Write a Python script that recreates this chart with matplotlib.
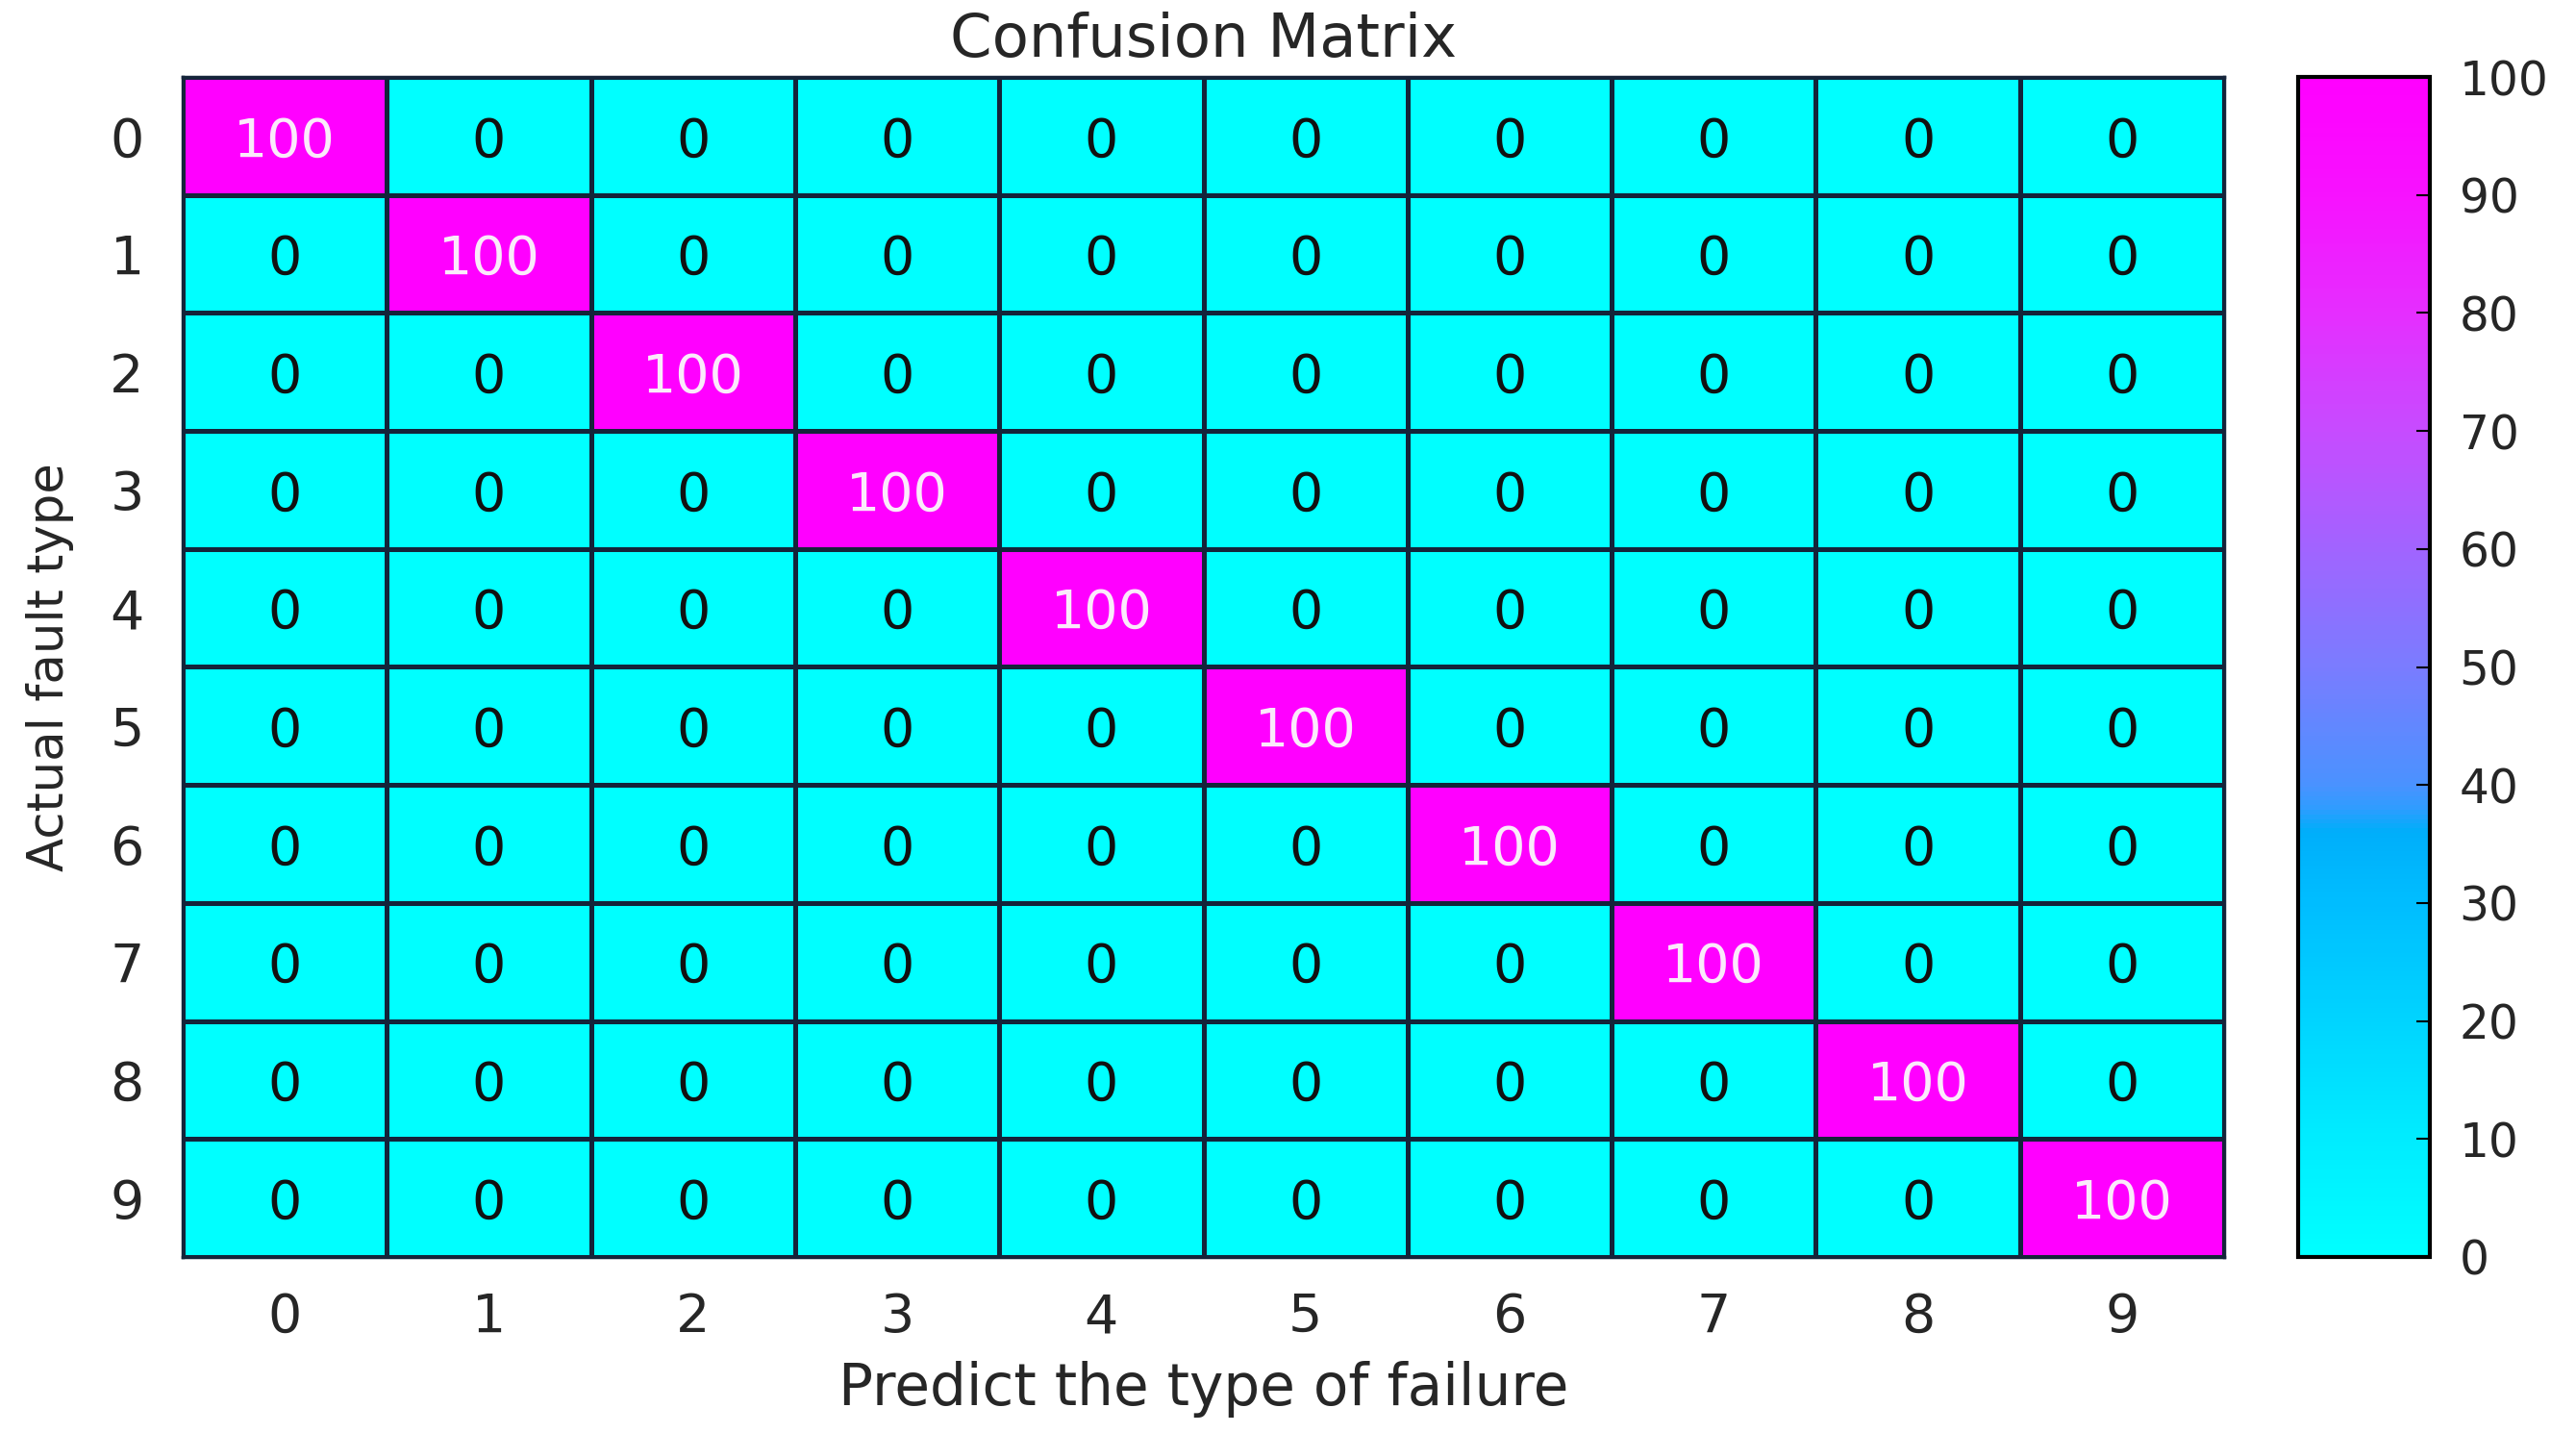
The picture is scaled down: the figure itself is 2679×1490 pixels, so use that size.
import numpy as np
import matplotlib
matplotlib.use("Agg")
import matplotlib.pyplot as plt
from matplotlib.colors import LinearSegmentedColormap, Normalize

# ---- data ----
predicted_labels = ['0', '1', '2', '3', '4', '5', '6', '7', '8', '9']
actual_labels = ['0', '1', '2', '3', '4', '5', '6', '7', '8', '9']
confusion = [
    [100, 0, 0, 0, 0, 0, 0, 0, 0, 0],
    [0, 100, 0, 0, 0, 0, 0, 0, 0, 0],
    [0, 0, 100, 0, 0, 0, 0, 0, 0, 0],
    [0, 0, 0, 100, 0, 0, 0, 0, 0, 0],
    [0, 0, 0, 0, 100, 0, 0, 0, 0, 0],
    [0, 0, 0, 0, 0, 100, 0, 0, 0, 0],
    [0, 0, 0, 0, 0, 0, 100, 0, 0, 0],
    [0, 0, 0, 0, 0, 0, 0, 100, 0, 0],
    [0, 0, 0, 0, 0, 0, 0, 0, 100, 0],
    [0, 0, 0, 0, 0, 0, 0, 0, 0, 100],
]
cbar_ticks = [0, 10, 20, 30, 40, 50, 60, 70, 80, 90, 100]
title_text = 'Confusion Matrix'
xlabel_text = 'Predict the type of failure'
ylabel_text = 'Actual fault type'

# ---- colormap (cyan -> magenta, as in the reference colorbar) ----
cmap_stops = [
    (0.00, '#00FFFF'),
    (0.10, '#00ECFF'),
    (0.20, '#00D4FF'),
    (0.30, '#00BDFF'),
    (0.36, '#00AEFA'),
    (0.38, '#2F9CFF'),
    (0.40, '#4A92FF'),
    (0.50, '#7A7CFF'),
    (0.60, '#A164FF'),
    (0.70, '#C64CFF'),
    (0.80, '#E52EFF'),
    (0.90, '#F712FF'),
    (1.00, '#FF00FF'),
]
cmap = LinearSegmentedColormap.from_list('cyanmag', cmap_stops)
norm = Normalize(vmin=0, vmax=100)

plt.rcParams['font.family'] = ['DejaVu Sans']
text_color = '#262626'

W, H = 2679, 1490
fig = plt.figure(figsize=(W / 100, H / 100), dpi=100)

ax = fig.add_axes([190 / W, 183 / H, 2123 / W, 1227 / H])
data = np.array(confusion, dtype=float)
n_rows, n_cols = data.shape
ax.pcolormesh(np.arange(n_cols + 1) - 0.5, np.arange(n_rows + 1) - 0.5, data,
              cmap=cmap, norm=norm, edgecolors='#14243a', linewidth=2.2)
ax.set_xlim(-0.5, n_cols - 0.5)
ax.set_ylim(n_rows - 0.5, -0.5)

for i in range(n_rows):
    for j in range(n_cols):
        v = data[i, j]
        col = '#FBEAFB' if v > 50 else '#111111'
        ax.text(j, i, f'{int(v)}', ha='center', va='center_baseline',
                fontsize=40, color=col)

ax.set_xticks(range(n_cols))
ax.set_xticklabels(predicted_labels)
ax.set_yticks(range(n_rows))
ax.set_yticklabels(actual_labels)
ax.tick_params(axis='both', length=0, labelsize=40, colors=text_color)
ax.tick_params(axis='x', pad=26)
ax.tick_params(axis='y', pad=29)
for s in ax.spines.values():
    s.set_color('#14243a')
    s.set_linewidth(2.5)

ax.set_title(title_text, fontsize=45, color=text_color, pad=15)
ax.set_xlabel(xlabel_text, fontsize=43, color=text_color)
ax.xaxis.set_label_coords(0.5, -0.088)
ax.xaxis.label.set_va('top')
ax.set_ylabel(ylabel_text, fontsize=37, color=text_color)
ax.yaxis.set_label_coords(-0.0532, 0.5)

# ---- colorbar ----
cax = fig.add_axes([2390 / W, 183 / H, 137 / W, 1227 / H])
sm = matplotlib.cm.ScalarMappable(norm=norm, cmap=cmap)
cb = fig.colorbar(sm, cax=cax, ticks=cbar_ticks)
cb.outline.set_edgecolor('#000000')
cb.outline.set_linewidth(3)
cax.tick_params(axis='y', direction='in', length=10, width=1.5, labelsize=35,
                colors=text_color, pad=22)
cax.yaxis.set_tick_params(color='#000000')

fig.savefig('out.png', dpi=100)
